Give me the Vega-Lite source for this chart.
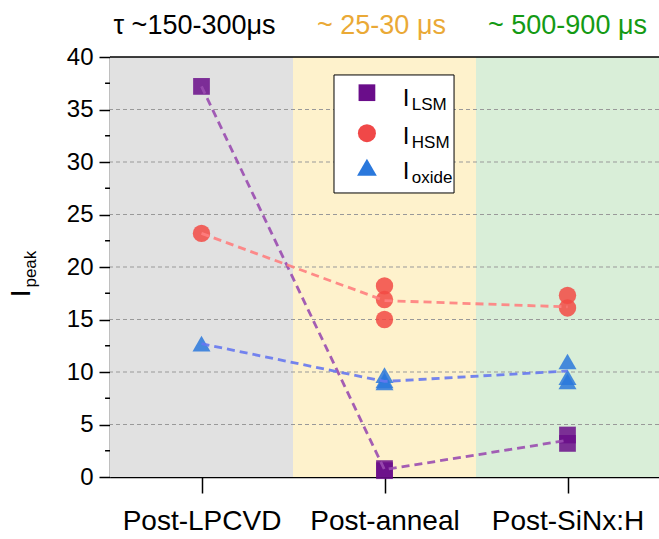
{
  "$schema": "https://vega.github.io/schema/vega-lite/v6.json",
  "width": 549,
  "height": 420,
  "autosize": {"type": "none"},
  "padding": {"left": 110, "top": 57, "right": 0, "bottom": 62},
  "background": "white",
  "config": {"view": {"stroke": null}, "font": "Liberation Sans"},
  "datasets": {
    "one": [{}],
    "bands": [
      {"stage": "Post-LPCVD", "x0": -0.5, "x1": 0.5},
      {"stage": "Post-anneal", "x0": 0.5, "x1": 1.5},
      {"stage": "Post-SiNx:H", "x0": 1.5, "x1": 2.5}
    ],
    "grid": [{"g": 5}, {"g": 10}, {"g": 15}, {"g": 20}, {"g": 25}, {"g": 30}, {"g": 35}],
    "minor": [{"m": 2.5}, {"m": 7.5}, {"m": 12.5}, {"m": 17.5}, {"m": 22.5}, {"m": 27.5}, {"m": 32.5}, {"m": 37.5}],
    "points": [
      {"step": 0, "stage": "Post-LPCVD", "series": "LSM", "v": 37.2},
      {"step": 0, "stage": "Post-LPCVD", "series": "HSM", "v": 23.2},
      {"step": 0, "stage": "Post-LPCVD", "series": "oxide", "v": 12.7},
      {"step": 1, "stage": "Post-anneal", "series": "LSM", "v": 0.8},
      {"step": 1, "stage": "Post-anneal", "series": "LSM", "v": 0.6},
      {"step": 1, "stage": "Post-anneal", "series": "HSM", "v": 18.2},
      {"step": 1, "stage": "Post-anneal", "series": "HSM", "v": 16.9},
      {"step": 1, "stage": "Post-anneal", "series": "HSM", "v": 15.0},
      {"step": 1, "stage": "Post-anneal", "series": "oxide", "v": 9.7},
      {"step": 1, "stage": "Post-anneal", "series": "oxide", "v": 9.2},
      {"step": 1, "stage": "Post-anneal", "series": "oxide", "v": 9.0},
      {"step": 2, "stage": "Post-SiNx:H", "series": "LSM", "v": 4.0},
      {"step": 2, "stage": "Post-SiNx:H", "series": "LSM", "v": 3.2},
      {"step": 2, "stage": "Post-SiNx:H", "series": "HSM", "v": 17.3},
      {"step": 2, "stage": "Post-SiNx:H", "series": "HSM", "v": 16.1},
      {"step": 2, "stage": "Post-SiNx:H", "series": "oxide", "v": 11.0},
      {"step": 2, "stage": "Post-SiNx:H", "series": "oxide", "v": 9.5},
      {"step": 2, "stage": "Post-SiNx:H", "series": "oxide", "v": 9.1}
    ],
    "means": [
      {"step": 0, "series": "LSM", "v": 37.2},
      {"step": 1, "series": "LSM", "v": 0.7},
      {"step": 2, "series": "LSM", "v": 3.5},
      {"step": 0, "series": "HSM", "v": 23.2},
      {"step": 1, "series": "HSM", "v": 16.8},
      {"step": 2, "series": "HSM", "v": 16.2},
      {"step": 0, "series": "oxide", "v": 12.7},
      {"step": 1, "series": "oxide", "v": 9.1},
      {"step": 2, "series": "oxide", "v": 10.1}
    ]
  },
  "layer": [
    {
      "data": {"name": "bands"},
      "mark": {"type": "rect"},
      "encoding": {
        "x": {
          "field": "x0", "type": "quantitative",
          "scale": {"domain": [-0.5, 2.5], "nice": false, "zero": false},
          "axis": {
            "values": [0, 1, 2],
            "labelExpr": "datum.value == 0 ? 'Post-LPCVD' : datum.value == 1 ? 'Post-anneal' : 'Post-SiNx:H'",
            "title": null, "grid": false,
            "domainColor": "black", "domainWidth": 1.5,
            "tickColor": "black", "tickWidth": 1.5, "tickSize": 16,
            "labelFontSize": 28, "labelColor": "black", "labelPadding": 14,
            "labelFont": "Liberation Sans"
          }
        },
        "x2": {"field": "x1"},
        "y": {
          "datum": 0, "type": "quantitative",
          "scale": {"domain": [0, 40], "nice": false, "zero": true},
          "axis": {
            "values": [0, 5, 10, 15, 20, 25, 30, 35, 40],
            "format": "d",
            "title": null, "grid": false,
            "domainColor": "black", "domainWidth": 1.5,
            "tickColor": "black", "tickWidth": 1.5, "tickSize": 11,
            "labelFontSize": 24, "labelColor": "black", "labelPadding": 6,
            "labelFont": "Liberation Sans"
          }
        },
        "y2": {"datum": 40},
        "fill": {
          "field": "stage", "type": "nominal",
          "scale": {"domain": ["Post-LPCVD", "Post-anneal", "Post-SiNx:H"], "range": ["#e1e1e1", "#fef2cc", "#d9eed8"]},
          "legend": null
        }
      }
    },
    {
      "data": {"name": "grid"},
      "mark": {"type": "rule", "color": "#999999", "strokeDash": [4, 3], "strokeWidth": 1},
      "encoding": {"y": {"field": "g", "type": "quantitative"}}
    },
    {
      "data": {"name": "minor"},
      "mark": {"type": "rule", "color": "black", "strokeWidth": 1.5},
      "encoding": {
        "y": {"field": "m", "type": "quantitative"},
        "x": {"datum": -0.5},
        "x2": {"datum": -0.527}
      }
    },
    {
      "data": {"name": "one"},
      "mark": {"type": "rule", "color": "black", "strokeWidth": 1.5},
      "encoding": {"y": {"datum": 40}}
    },
    {
      "data": {"name": "points"},
      "mark": {"type": "point", "filled": true, "opacity": 0.85},
      "encoding": {
        "x": {"field": "step", "type": "quantitative"},
        "y": {"field": "v", "type": "quantitative"},
        "shape": {"field": "series", "type": "nominal", "scale": {"domain": ["LSM", "HSM", "oxide"], "range": ["square", "circle", "triangle-up"]}, "legend": null},
        "color": {"field": "series", "type": "nominal", "scale": {"domain": ["LSM", "HSM", "oxide"], "range": ["#6a0d8a", "#f24a44", "#2a78dc"]}, "legend": null},
        "size": {"field": "series", "type": "nominal", "scale": {"domain": ["LSM", "HSM", "oxide"], "range": [280, 324, 390]}, "legend": null}
      }
    },
    {
      "data": {"name": "means"},
      "mark": {"type": "line", "strokeDash": [8, 5], "strokeWidth": 2.8, "opacity": 0.9},
      "encoding": {
        "x": {"field": "step", "type": "quantitative"},
        "y": {"field": "v", "type": "quantitative"},
        "stroke": {"field": "series", "type": "nominal", "scale": {"domain": ["LSM", "HSM", "oxide"], "range": ["#9a4db0", "#ff7f7f", "#6678f0"]}, "legend": null}
      }
    },
    {
      "data": {"name": "one"},
      "mark": {"type": "rect", "fill": "white", "stroke": "black", "strokeWidth": 1},
      "encoding": {"x": {"datum": 0.724}, "x2": {"datum": 1.38}, "y": {"datum": 38.29}, "y2": {"datum": 27.05}}
    },
    {
      "data": {"name": "one"},
      "mark": {"type": "point", "filled": true, "shape": "square", "size": 280, "color": "#6a0d8a", "opacity": 1},
      "encoding": {"x": {"datum": 0.904}, "y": {"datum": 36.6}}
    },
    {
      "data": {"name": "one"},
      "mark": {"type": "point", "filled": true, "shape": "circle", "size": 324, "color": "#f04848", "opacity": 1},
      "encoding": {"x": {"datum": 0.904}, "y": {"datum": 32.75}}
    },
    {
      "data": {"name": "one"},
      "mark": {"type": "point", "filled": true, "shape": "triangle-up", "size": 390, "color": "#2a78dc", "opacity": 1},
      "encoding": {"x": {"datum": 0.904}, "y": {"datum": 29.5}}
    },
    {
      "data": {"name": "one"},
      "mark": {"type": "text", "text": "I", "fontSize": 24, "align": "left", "baseline": "alphabetic", "color": "black"},
      "encoding": {"x": {"datum": 1.1}, "y": {"datum": 35.3}}
    },
    {
      "data": {"name": "one"},
      "mark": {"type": "text", "text": "LSM", "fontSize": 17, "align": "left", "baseline": "alphabetic", "color": "black", "dx": 9, "dy": 4},
      "encoding": {"x": {"datum": 1.1}, "y": {"datum": 35.3}}
    },
    {
      "data": {"name": "one"},
      "mark": {"type": "text", "text": "I", "fontSize": 24, "align": "left", "baseline": "alphabetic", "color": "black"},
      "encoding": {"x": {"datum": 1.1}, "y": {"datum": 31.7}}
    },
    {
      "data": {"name": "one"},
      "mark": {"type": "text", "text": "HSM", "fontSize": 17, "align": "left", "baseline": "alphabetic", "color": "black", "dx": 9, "dy": 4},
      "encoding": {"x": {"datum": 1.1}, "y": {"datum": 31.7}}
    },
    {
      "data": {"name": "one"},
      "mark": {"type": "text", "text": "I", "fontSize": 24, "align": "left", "baseline": "alphabetic", "color": "black"},
      "encoding": {"x": {"datum": 1.1}, "y": {"datum": 28.35}}
    },
    {
      "data": {"name": "one"},
      "mark": {"type": "text", "text": "oxide", "fontSize": 17, "align": "left", "baseline": "alphabetic", "color": "black", "dx": 9, "dy": 4},
      "encoding": {"x": {"datum": 1.1}, "y": {"datum": 28.35}}
    },
    {
      "data": {"name": "one"},
      "mark": {"type": "text", "text": "I", "fontSize": 28, "angle": 270, "align": "center", "baseline": "middle", "color": "black", "dy": -88},
      "encoding": {"x": {"datum": -0.5}, "y": {"datum": 17.5}}
    },
    {
      "data": {"name": "one"},
      "mark": {"type": "text", "text": "peak", "fontSize": 17, "angle": 270, "align": "center", "baseline": "middle", "color": "black", "dy": -79},
      "encoding": {"x": {"datum": -0.5}, "y": {"datum": 19.8}}
    },
    {
      "data": {"name": "one"},
      "mark": {"type": "text", "text": "τ ~150-300μs", "fontSize": 27, "align": "center", "baseline": "alphabetic", "color": "black", "dy": -23.5, "dx": -7},
      "encoding": {"x": {"datum": 0}, "y": {"datum": 40}}
    },
    {
      "data": {"name": "one"},
      "mark": {"type": "text", "text": "~ 25-30 μs", "fontSize": 27, "align": "center", "baseline": "alphabetic", "color": "#eaa936", "dy": -23.5, "dx": -3},
      "encoding": {"x": {"datum": 1}, "y": {"datum": 40}}
    },
    {
      "data": {"name": "one"},
      "mark": {"type": "text", "text": "~ 500-900 μs", "fontSize": 27, "align": "center", "baseline": "alphabetic", "color": "#149a14", "dy": -23.5},
      "encoding": {"x": {"datum": 2}, "y": {"datum": 40}}
    }
  ]
}
